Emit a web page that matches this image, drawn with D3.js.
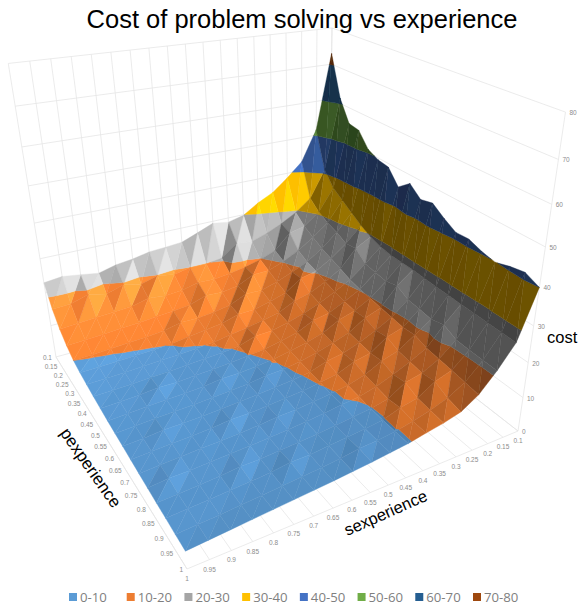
<!DOCTYPE html>
<html>
<head>
<meta charset="utf-8">
<script src="https://cdn.jsdelivr.net/npm/d3@7"></script>
<style>
  html, body { margin: 0; padding: 0; background: #fff; }
  svg { display: block; }
</style>
</head>
<body>
<svg id="chart"></svg>
<script>
const width = 578, height = 607;

const pLabels = ['0.1','0.15','0.2','0.25','0.3','0.35','0.4','0.45','0.5','0.55','0.6','0.65','0.7','0.75','0.8','0.85','0.9','0.95','1'];
const sLabels = pLabels;
const costTicks = [0,10,20,30,40,50,60,70,80];
const bandLabels = ['0-10','10-20','20-30','30-40','40-50','50-60','60-70','70-80'];
const bandColors = ['#5B9BD5','#ED7D31','#A5A5A5','#FFC000','#4472C4','#70AD47','#255E91','#9E480E'];

// rows = pexperience, columns = sexperience
const cost = [
  [73,51.6,42.7,38.6,35,32.7,29.8,28.7,29.4,27.5,25.7,25.3,25,24,23.4,22.1,22.9,23.6,23],
  [61.5,41,33,29.5,27,25,23.5,24,20.5,19.8,19.9,19,19.8,18.5,19.6,18.1,19.2,17.7,17.5],
  [55.5,37,30.5,27,26,21.5,19.8,18.6,17.8,17.2,17.5,16.3,15.9,16.5,15.3,15,14.7,14.4,14],
  [55,35,29,25.5,22.5,20.2,18.5,18.4,16.2,15.4,15.7,14.1,13.6,13.2,12.8,12.5,12.2,11.9,11.7],
  [51,33,28,24,21,19,17.2,15.8,15.9,13.8,13,12.4,12.5,11.4,11,10.7,10.4,10.2,10],
  [49.5,31,26.5,23,20.3,19.3,16,14.6,13.5,13.4,12,11.3,10.7,10.1,9.8,9.6,9.4,9.3,9.2],
  [49,29.5,27,22,19.2,17,15.8,13.6,12.6,11.7,11,10.2,9.8,9.5,9.3,9.1,8.9,8.7,8.6],
  [45,28.5,24.5,20.8,18.4,16.2,14.4,13,11.9,11.8,10.2,9.7,9.4,9.1,8.8,8.6,8.4,8.2,8.1],
  [47.7,28,24,20.2,17.8,15.6,14.7,12.5,11.4,10.4,9.9,9.4,9.1,8.8,8.5,8.6,8.1,7.9,7.7],
  [45,28,23.6,19.8,17.4,16,13.5,12.1,11,10.1,9.6,9.2,9.1,8.5,8.2,8,7.8,7.5,7.3],
  [45.8,28,24.6,19.4,17.7,14.8,13.1,11.7,10.6,9.8,9.6,8.9,8.5,8.2,7.9,7.7,7.5,7.2,7],
  [43.5,27.8,22.9,19,16.6,14.4,12.7,11.9,10.3,9.6,9.1,8.7,8.3,8,7.7,7.5,7.5,7,6.7],
  [41.6,27.6,22.5,18.6,17.2,14,13,11,10.1,9.4,8.9,8.5,8.1,8.1,7.5,7.2,7,6.7,6.4],
  [41.8,27.5,22,18.9,15.8,14.4,12,10.6,9.8,9.2,8.7,8.5,7.9,7.5,7.2,7,6.7,6.4,6.1],
  [40.6,27.4,23,17.8,15.4,13.3,11.5,10.2,9.75,9,8.5,8,7.6,7.3,7,6.7,6.4,6.4,5.8],
  [39.8,27.3,21.3,17.4,15,13.9,11,9.9,9.3,8.7,8.2,7.8,7.4,7,7,6.4,6.1,5.8,5.5],
  [40.9,27.2,21.1,17,15.5,12.5,11.5,9.8,9.2,8.7,8.2,7.7,7.6,6.9,6.5,6.2,5.9,5.6,5.3],
  [41.6,27.1,21,16.5,13.8,12.1,10.8,9.8,9.2,8.9,8.1,7.6,7.2,6.8,6.4,6,5.6,5.3,5],
  [40,27,21,16,13,11.7,10.8,9.8,9.2,8.6,8.1,7.6,7.2,6.8,6.4,6,5.6,5.2,4.8]
];

const svg = d3.select('#chart').attr('width', width).attr('height', height);

svg.append('defs').append('filter').attr('id', 'soft')
  .append('feGaussianBlur').attr('stdDeviation', 0.45);

const uScale = d3.scalePoint().domain(pLabels).range([0, 1]);
const vScale = d3.scalePoint().domain(sLabels).range([0, 1]);
const wScale = d3.scaleLinear().domain([0, 80]).range([0, 1]);

// camera fitted on the box corners of the picture
const depth = (u, v, w) => 1 - 0.2367 * u - 0.1478 * v - 0.138 * w;
function project(u, v, w) {
  const d = depth(u, v, w);
  return [(67.4 * u - 280.3 * v - 41.8 * w + 328) / d,
          (46 * u + 21.2 * v - 258.9 * w + 283) / d];
}

const line3 = (a, b) => {
  const p = project(...a), q = project(...b);
  return `M${p[0]},${p[1]}L${q[0]},${q[1]}`;
};

// walls and floor
const gridG = svg.append('g').attr('fill', 'none').attr('stroke', '#e6e6e6').attr('stroke-width', 0.8);
costTicks.forEach(c => {
  const w = wScale(c);
  gridG.append('path').attr('d', line3([0, 1, w], [0, 0, w]));
  gridG.append('path').attr('d', line3([0, 0, w], [1, 0, w]));
});
sLabels.forEach(s => {
  const v = vScale(s);
  gridG.append('path').attr('d', line3([0, v, 0], [0, v, 1]));
  gridG.append('path').attr('d', line3([0, v, 0], [1, v, 0]));
});
gridG.append('path').attr('d', line3([1, 0, 0], [1, 0, 1]));
gridG.append('path').attr('d', line3([0, 0, 0], [0, 0, 1]));
gridG.append('path').attr('d', line3([0, 1, 0], [1, 1, 0]));
gridG.append('path').attr('d', line3([1, 1, 0], [1, 0, 0]));

// split a cell into triangles, cut every triangle along the cost bands
function clip(poly, limit, keepAbove) {
  const out = [];
  poly.forEach((a, n) => {
    const b = poly[(n + 1) % poly.length];
    const ina = keepAbove ? a[2] >= limit : a[2] <= limit;
    const inb = keepAbove ? b[2] >= limit : b[2] <= limit;
    if (ina) out.push(a);
    if (ina !== inb) {
      const t = (limit - a[2]) / (b[2] - a[2]);
      out.push([a[0] + t * (b[0] - a[0]), a[1] + t * (b[1] - a[1]), limit]);
    }
  });
  return out;
}

function shade(tri) {
  const [a, b, c] = tri;
  const e1 = [b[0] - a[0], b[1] - a[1], b[2] - a[2]];
  const e2 = [c[0] - a[0], c[1] - a[1], c[2] - a[2]];
  let n = [e1[1] * e2[2] - e1[2] * e2[1], e1[2] * e2[0] - e1[0] * e2[2], e1[0] * e2[1] - e1[1] * e2[0]];
  if (n[2] < 0) n = n.map(x => -x);
  const len = Math.hypot(...n);
  const nu = n[0] / len, nv = n[1] / len;
  // steep walls facing the left stay flat and dark
  return 0.98 + 0.42 * nu * (1 - 0.85 * Math.max(0, nv)) - 0.6 * nv;
}

function tint(color, k) {
  const c = d3.rgb(color);
  return d3.rgb(Math.min(255, c.r * k), Math.min(255, c.g * k), Math.min(255, c.b * k)).formatHex();
}

const facets = [];
for (let i = 0; i < pLabels.length - 1; i++) {
  for (let j = 0; j < sLabels.length - 1; j++) {
    const pt = (r, q) => [uScale(pLabels[r]), vScale(sLabels[q]), wScale(cost[r][q])];
    const tris = [
      [pt(i, j), pt(i + 1, j), pt(i + 1, j + 1)],
      [pt(i, j), pt(i + 1, j + 1), pt(i, j + 1)]
    ];
    tris.forEach(tri => {
      const k = shade(tri);
      const dep = d3.mean(tri, d => depth(d[0], d[1], d[2]));
      bandColors.forEach((col, b) => {
        const lo = wScale(b * 10), hi = wScale((b + 1) * 10);
        let poly = clip(tri, lo, true);
        if (poly.length) poly = clip(poly, hi, false);
        if (poly.length > 2) facets.push({ poly, fill: tint(col, k), dep });
      });
    });
  }
}
facets.sort((a, b) => d3.descending(a.dep, b.dep));

svg.append('g').attr('filter', 'url(#soft)').selectAll('polygon')
  .data(facets)
  .enter().append('polygon')
  .attr('points', d => d.poly.map(q => project(q[0], q[1], q[2]).map(x => x.toFixed(2)).join(',')).join(' '))
  .attr('fill', d => d.fill)
  .attr('stroke', d => d.fill)
  .attr('stroke-width', 0.4)
  .attr('stroke-linejoin', 'round');

// tick labels
const sans = 'Liberation Sans, Arial, sans-serif';
const tickG = svg.append('g')
  .attr('font-family', sans)
  .attr('font-size', 6.5)
  .attr('fill', '#8c8c8c');

tickG.selectAll('.ptick').data(pLabels).enter().append('text')
  .attr('class', 'ptick')
  .attr('text-anchor', 'end')
  .attr('x', d => project(uScale(d), 1, 0)[0] - 4)
  .attr('y', d => project(uScale(d), 1, 0)[1] + 3)
  .text(d => d);

tickG.selectAll('.stick').data(sLabels).enter().append('text')
  .attr('class', 'stick')
  .attr('text-anchor', 'middle')
  .attr('x', d => project(1, vScale(d), 0)[0])
  .attr('y', d => project(1, vScale(d), 0)[1] + 12)
  .text(d => d);

tickG.selectAll('.ctick').data(costTicks).enter().append('text')
  .attr('class', 'ctick')
  .attr('x', d => project(1, 0, wScale(d))[0] + 4)
  .attr('y', d => project(1, 0, wScale(d))[1] + 3)
  .text(d => d);

// titles
svg.append('text').attr('x', 302).attr('y', 28).attr('text-anchor', 'middle')
  .attr('font-family', sans).attr('font-size', 25.5).attr('fill', '#000')
  .text('Cost of problem solving vs experience');
svg.append('text').attr('text-anchor', 'middle').attr('font-family', sans).attr('font-size', 17)
  .attr('transform', 'translate(86,471) rotate(55)').text('pexperience');
svg.append('text').attr('text-anchor', 'middle').attr('font-family', sans).attr('font-size', 16.5)
  .attr('transform', 'translate(388,518) rotate(-24)').text('sexperience');
svg.append('text').attr('x', 547).attr('y', 343).attr('font-family', sans).attr('font-size', 16.5).text('cost');

// legend
const legendX = d3.scalePoint().domain(bandLabels).range([69, 473]);
const legend = svg.append('g').selectAll('g').data(bandLabels).enter().append('g')
  .attr('transform', d => `translate(${legendX(d)},593)`);
legend.append('rect').attr('width', 8).attr('height', 8)
  .attr('fill', (d, i) => bandColors[i]);
legend.append('text').attr('x', 11).attr('y', 8.8)
  .attr('font-family', 'Open Sans, sans-serif').attr('font-size', 13.2).attr('fill', '#7f7f7f')
  .text(d => d);
</script>
</body>
</html>
